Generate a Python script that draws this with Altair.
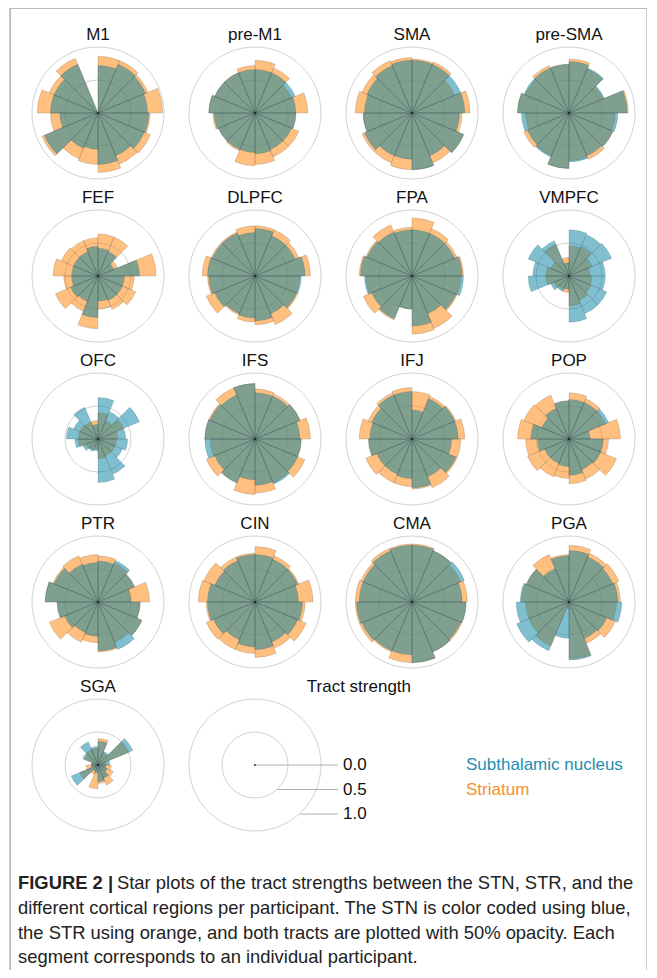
import math
import altair as alt
import pandas as pd

# ---------------- data (16 participants, clockwise from 12 o'clock) ----------------
REGIONS = ["M1", "pre-M1", "SMA", "pre-SMA", "FEF", "DLPFC", "FPA", "VMPFC",
           "OFC", "IFS", "IFJ", "POP", "PTR", "CIN", "CMA", "PGA", "SGA"]

M1_STN = [.72, .80, .78, .75, .77, .76, .70, .78, .55, .58, .88, .58, .72, .72, .80, .0]
M1_STR = [.86, .86, .82, .98, .79, .86, .84, .90, .78, .75, .92, .72, .92, .80, .90, .0]
PREM1_STN = [.66, .66, .66, .62, .62, .60, .60, .62, .60, .60, .60, .62, .70, .66, .66, .66]
PREM1_STR = [.80, .74, .60, .80, .62, .72, .72, .78, .80, .62, .60, .64, .70, .66, .66, .72]
SMA_STN = [.80, .80, .80, .80, .72, .85, .70, .86, .70, .70, .78, .74, .72, .74, .78, .80]
SMA_STR = [.82, .84, .70, .88, .76, .85, .82, .86, .86, .82, .82, .74, .86, .82, .86, .84]
PRESMA_STN = [.78, .74, .58, .88, .74, .72, .70, .74, .84, .72, .68, .72, .78, .74, .74, .74]
PRESMA_STR = [.82, .72, .56, .90, .70, .72, .76, .72, .84, .70, .74, .66, .78, .72, .78, .74]
FEF_STN = [.42, .40, .26, .63, .40, .40, .40, .38, .63, .42, .45, .40, .40, .40, .40, .45]
FEF_STR = [.64, .64, .32, .88, .55, .62, .55, .50, .80, .58, .70, .52, .68, .60, .58, .58]
DLPFC_STN = [.72, .66, .66, .76, .70, .68, .62, .68, .64, .62, .66, .70, .72, .70, .70, .66]
DLPFC_STR = [.76, .76, .72, .84, .68, .70, .80, .74, .70, .64, .80, .72, .80, .72, .72, .76]
FPA_STN = [.70, .70, .70, .76, .78, .72, .62, .76, .50, .70, .66, .72, .78, .74, .72, .70]
FPA_STR = [.88, .78, .74, .78, .74, .74, .86, .88, .50, .72, .80, .70, .80, .76, .84, .74]
VMPFC_STN = [.70, .68, .70, .55, .55, .62, .62, .70, .20, .25, .30, .62, .55, .67, .58, .20]
VMPFC_STR = [.46, .48, .38, .32, .35, .36, .40, .45, .25, .22, .25, .35, .35, .30, .52, .28]
OFC_STN = [.63, .45, .68, .42, .45, .40, .58, .66, .18, .20, .25, .35, .48, .40, .52, .22]
OFC_STR = [.40, .30, .42, .30, .28, .28, .28, .30, .15, .18, .20, .30, .30, .30, .28, .28]
IFS_STN = [.70, .70, .74, .68, .70, .70, .74, .70, .62, .72, .66, .76, .76, .74, .72, .84]
IFS_STR = [.76, .74, .74, .84, .70, .82, .72, .82, .84, .72, .80, .68, .76, .76, .84, .84]
IFJ_STN = [.44, .66, .70, .70, .60, .72, .62, .74, .60, .58, .58, .66, .64, .66, .72, .72]
IFJ_STR = [.72, .70, .72, .80, .74, .74, .80, .76, .72, .72, .76, .66, .80, .72, .76, .78]
POP_STN = [.60, .60, .65, .32, .52, .52, .50, .55, .42, .40, .40, .48, .58, .45, .50, .58]
POP_STR = [.70, .66, .60, .78, .60, .78, .66, .68, .60, .62, .68, .66, .78, .74, .72, .58]
PTR_STN = [.62, .68, .60, .50, .64, .72, .78, .74, .52, .50, .55, .62, .80, .72, .62, .60]
PTR_STR = [.70, .64, .60, .78, .64, .72, .66, .76, .62, .66, .80, .62, .80, .74, .76, .72]
CIN_STN = [.72, .70, .70, .66, .72, .70, .66, .72, .68, .62, .68, .72, .72, .66, .68, .72]
CIN_STR = [.84, .76, .72, .88, .76, .84, .76, .84, .78, .78, .80, .74, .86, .84, .74, .74]
CMA_STN = [.86, .84, .86, .76, .82, .80, .82, .92, .80, .80, .82, .84, .80, .80, .84, .86]
CMA_STR = [.88, .84, .80, .84, .82, .82, .82, .92, .92, .82, .86, .86, .86, .84, .88, .88]
PGA_STN = [.78, .74, .72, .74, .80, .62, .60, .88, .55, .80, .86, .80, .74, .70, .55, .70]
PGA_STR = [.86, .80, .82, .78, .72, .76, .68, .86, .10, .72, .66, .66, .72, .70, .78, .72]
SGA_STN = [.36, .22, .57, .18, .12, .15, .22, .25, .12, .10, .44, .10, .10, .25, .38, .28]
SGA_STR = [.40, .20, .50, .12, .20, .25, .33, .28, .36, .15, .30, .18, .10, .22, .25, .25]

STN_LISTS = [M1_STN, PREM1_STN, SMA_STN, PRESMA_STN, FEF_STN, DLPFC_STN, FPA_STN, VMPFC_STN,
             OFC_STN, IFS_STN, IFJ_STN, POP_STN, PTR_STN, CIN_STN, CMA_STN, PGA_STN, SGA_STN]
STR_LISTS = [M1_STR, PREM1_STR, SMA_STR, PRESMA_STR, FEF_STR, DLPFC_STR, FPA_STR, VMPFC_STR,
             OFC_STR, IFS_STR, IFJ_STR, POP_STR, PTR_STR, CIN_STR, CMA_STR, PGA_STR, SGA_STR]

GRID_LEVELS = [0.5, 1.0]
LEGEND_TICKS = [0.0, 0.5, 1.0]
LEGEND_TICK_LABELS = ["0.0", "0.5", "1.0"]
TRACT_NAMES = ["Subthalamic nucleus", "Striatum"]
CAPTION_BOLD = "FIGURE 2 |"
CAPTION_LINES = [
    "Star plots of the tract strengths between the STN, STR, and the",
    "different cortical regions per participant. The STN is color coded using blue,",
    "the STR using orange, and both tracts are plotted with 50% opacity. Each",
    "segment corresponds to an individual participant.",
]

N = 16
COLS = 4

# ---------------- layout (panel units) ----------------
W, H = 637, 962
X0 = -0.5605
X1 = X0 + W / 157.0
Y0 = -0.6442
Y1 = Y0 + H / 163.0

BLUE = "#0080a0"
ORANGE = "#ff8000"

# ---------------- tables ----------------
bar_rows = []
for i, (name, s, t) in enumerate(zip(REGIONS, STN_LISTS, STR_LISTS)):
    c, r = i % COLS, i // COLS
    for p in range(N):
        bar_rows.append(dict(region=name, col=c, row=r, p=p, p1=p + 1, tract="STR", v=t[p]))
        bar_rows.append(dict(region=name, col=c, row=r, p=p, p1=p + 1, tract="STN", v=s[p]))
bars = pd.DataFrame(bar_rows)

centers = [dict(col=i % COLS, row=i // COLS) for i in range(len(REGIONS))]
centers.append(dict(col=1, row=4))  # legend dial
grid = pd.DataFrame([dict(col=c["col"], row=c["row"], t0=0, t1=N, r=g)
                     for c in centers for g in GRID_LEVELS])
dots = pd.DataFrame(centers)

titles = pd.DataFrame([dict(col=i % COLS, row=i // COLS, text=n) for i, n in enumerate(REGIONS)]
                      + [dict(col=1.662, row=4, text="Tract strength")])

leg = pd.DataFrame([dict(xs=1 + v * 45 / 157.0, xe=1.529, y=4 + v * 49 / 163.0, text=lab)
                    for v, lab in zip(LEGEND_TICKS, LEGEND_TICK_LABELS)])
names = pd.DataFrame([dict(col=2.344, row=4 + k * 24.5 / 163.0, text=n, tract=tr)
                      for k, (n, tr) in enumerate(zip(TRACT_NAMES, ["STN", "STR"]))])

cap_y0 = (889 - 113) / 163.0
cap = pd.DataFrame([dict(col=(18 - 98) / 157.0 if k else (117 - 98) / 157.0,
                         row=cap_y0 + k * 24.8 / 163.0, text=line)
                    for k, line in enumerate(CAPTION_LINES)])
capb = pd.DataFrame([dict(col=(18 - 98) / 157.0, row=cap_y0, text=CAPTION_BOLD)])

frame = pd.DataFrame([
    dict(x=X0, y=Y0, x2=X0, y2=Y1),
    dict(x=X1, y=Y0, x2=X1, y2=Y1),
    dict(x=X0, y=Y0, x2=X1, y2=Y0),
])

# ---------------- scales ----------------
xs = alt.Scale(domain=[X0, X1], nice=False, zero=False)
ys = alt.Scale(domain=[Y0, Y1], nice=False, zero=False, reverse=True)
ths = alt.Scale(domain=[0, N], range=[0, 2 * math.pi], nice=False)
rs = alt.Scale(type="linear", domain=[0, 1], range=[0, 66], nice=False)


def XY(xf="col", yf="row"):
    return dict(x=alt.X(f"{xf}:Q", scale=xs, axis=None),
                y=alt.Y(f"{yf}:Q", scale=ys, axis=None))


FONT = "Liberation Sans"

grid_layer = alt.Chart(grid).mark_arc(fillOpacity=0, stroke="#d2d2d2", strokeWidth=1).encode(
    **XY(), theta=alt.Theta("t0:Q", scale=ths, stack=None), theta2=alt.Theta2("t1"),
    radius=alt.Radius("r:Q", scale=rs, stack=None))


def bar_layer(tract, color):
    return alt.Chart(bars).transform_filter(alt.datum.tract == tract).mark_arc(
        fill=color, fillOpacity=0.5, stroke="#4a4a4a", strokeOpacity=0.3, strokeWidth=0.6
    ).encode(**XY(), theta=alt.Theta("p:Q", scale=ths, stack=None), theta2=alt.Theta2("p1"),
             radius=alt.Radius("v:Q", scale=rs, stack=None))


str_layer = bar_layer("STR", ORANGE)
stn_layer = bar_layer("STN", BLUE)

dot_layer = alt.Chart(dots).mark_circle(size=5, color="#222222", opacity=1).encode(**XY())

title_layer = alt.Chart(titles).mark_text(font=FONT, fontSize=17, dy=-73, baseline="alphabetic",
                                          align="center", color="#111111").encode(**XY(), text="text:N")

leg_lines = alt.Chart(leg).mark_rule(color="#b0b0b0", strokeWidth=1).encode(
    x=alt.X("xs:Q", scale=xs, axis=None), x2="xe", y=alt.Y("y:Q", scale=ys, axis=None))
leg_text = alt.Chart(leg).mark_text(font=FONT, fontSize=17, align="left", baseline="middle", dx=5,
                                    color="#111111").encode(**XY("xe", "y"), text="text:N")
name_text = alt.Chart(names).mark_text(font=FONT, fontSize=17, align="left", baseline="middle").encode(
    **XY(), text="text:N",
    color=alt.Color("tract:N", scale=alt.Scale(domain=["STN", "STR"], range=["#1f8eb0", "#f7902e"]),
                    legend=None))

cap_layer = alt.Chart(cap).mark_text(font=FONT, fontSize=18.4, align="left", baseline="alphabetic",
                                     color="#222222").encode(**XY(), text="text:N")
capb_layer = alt.Chart(capb).mark_text(font=FONT, fontSize=18.4, fontWeight="bold", align="left",
                                       baseline="alphabetic", color="#222222").encode(**XY(), text="text:N")

frame_layer = alt.Chart(frame).mark_rule(color="#9a9a9a", strokeWidth=1).encode(
    x=alt.X("x:Q", scale=xs, axis=None), x2="x2",
    y=alt.Y("y:Q", scale=ys, axis=None), y2="y2")

chart = alt.layer(
    grid_layer, str_layer, stn_layer, dot_layer, title_layer,
    leg_lines, leg_text, name_text, cap_layer, capb_layer, frame_layer
).properties(
    width=W, height=H,
    padding={"left": 2, "top": 0, "right": 0, "bottom": 0},
    autosize=alt.AutoSizeParams(type="none"),
).configure_view(strokeWidth=0).configure(background="white")

chart.save("out.html", embed_options={"renderer": "svg", "actions": False})
